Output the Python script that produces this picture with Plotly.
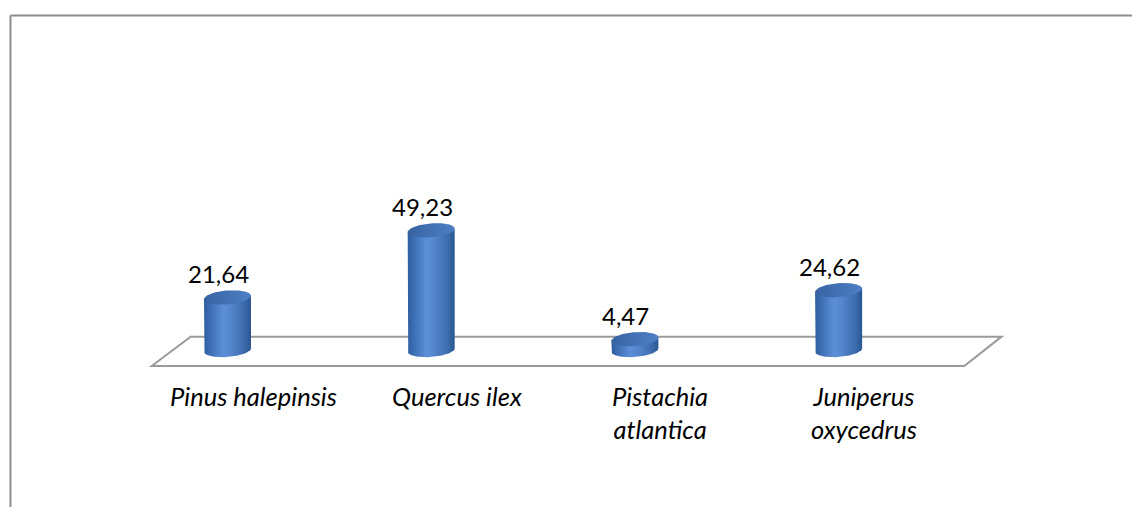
import numpy as np
import plotly.graph_objects as go

# Share of each species (%)
species = ["Pinus halepinsis", "Quercus ilex", "Pistachia atlantica", "Juniperus oxycedrus"]
tick_labels = ["Pinus halepinsis", "Quercus ilex", "Pistachia<br>atlantica", "Juniperus<br>oxycedrus"]
shares = [21.64, 49.23, 4.47, 24.62]
value_labels = ["21,64", "49,23", "4,47", "24,62"]

W, H = 1132, 507
FONT = "Lato"

# axis scaling: pixels per category step and per value unit
x0_px, step_px = 227.5, 203.7
base_px, unit_px = 350.0, 2.43
x_range = [-x0_px / step_px, (W - x0_px) / step_px]
y_range = [-(H - base_px) / unit_px, base_px / unit_px]

# cylinder geometry in axis units
half_w = 23.5 / step_px
ry = 7.0 / unit_px
shear = 1.7 / unit_px

body_scale = [[0.0, "#2F5E9E"], [0.12, "#3B6DB2"], [0.40, "#5C8FD7"],
              [0.55, "#5587CF"], [0.85, "#3D6CAE"], [1.0, "#2B5692"]]
top_scale = [[0.0, "#3763A2"], [0.6, "#4574B8"], [1.0, "#4E7FC4"]]

fig = go.Figure()

t_half = np.linspace(np.pi, 2 * np.pi, 60)
t_full = np.linspace(0, 2 * np.pi, 120)

for i, v in enumerate(shares):
    cx = i
    # body: left side, lower half of the base ellipse, right side
    bx = np.concatenate([[cx - half_w, cx - half_w],
                         cx + half_w * np.cos(t_half),
                         [cx + half_w, cx - half_w]])
    by = np.concatenate([[v - shear, -shear],
                         ry * np.sin(t_half) + shear * np.cos(t_half),
                         [v + shear, v - shear]])
    fig.add_trace(go.Scatter(
        x=bx, y=by, mode="lines", fill="toself",
        line=dict(width=0, color="#3D6CAE"),
        fillgradient=dict(type="horizontal", colorscale=body_scale),
        hoverinfo="skip", showlegend=False))
    # top face
    tx = cx + half_w * np.cos(t_full)
    ty = v + ry * np.sin(t_full) + shear * np.cos(t_full)
    fig.add_trace(go.Scatter(
        x=tx, y=ty, mode="lines", fill="toself",
        line=dict(width=0, color="#4676B9"),
        fillgradient=dict(type="horizontal", colorscale=top_scale),
        name=species[i], hovertemplate="%{text}<extra></extra>",
        text=[f"{species[i]}: {value_labels[i]}"] * len(tx), showlegend=False))

    # data label above the cylinder
    fig.add_annotation(x=cx, y=v + ry, text=value_labels[i], showarrow=False,
                       xanchor="center", yanchor="bottom", xshift=-9, yshift=0,
                       font=dict(family=FONT, size=24, color="#000000"))

# floor of the 3D plot area
floor_back, floor_front = 5.5, -6.6
fl, bl, br, fr = -0.372, -0.181, 3.80, 3.617
fig.add_shape(type="path", xref="x", yref="y", layer="below",
              path=f"M {fl},{floor_front} L {bl},{floor_back} L {br},{floor_back} "
                   f"L {fr},{floor_front} Z",
              line=dict(color="#9A9A9A", width=2), fillcolor="rgba(0,0,0,0)")

# category labels under the floor
for i, lab in enumerate(tick_labels):
    fig.add_annotation(x=i, y=floor_front, text=f"<i>{lab}</i>", showarrow=False,
                       xanchor="center", yanchor="top", xshift=25.5, yshift=-13,
                       font=dict(family=FONT, size=25.5, color="#000000"))

# chart frame (top and left edges)
top_y = 1 - 15.5 / H
left_x = 10.5 / W
fig.add_shape(type="line", xref="paper", yref="paper", x0=left_x, x1=1.0, y0=top_y, y1=top_y,
              line=dict(color="#8E8E8E", width=2))
fig.add_shape(type="line", xref="paper", yref="paper", x0=left_x, x1=left_x, y0=0, y1=top_y,
              line=dict(color="#8E8E8E", width=2))

fig.update_layout(
    width=W, height=H,
    margin=dict(l=0, r=0, t=0, b=0),
    paper_bgcolor="#FFFFFF", plot_bgcolor="#FFFFFF",
    xaxis=dict(range=x_range, visible=False, fixedrange=True),
    yaxis=dict(range=y_range, visible=False, fixedrange=True),
    showlegend=False,
)

fig.write_html("out.html")
